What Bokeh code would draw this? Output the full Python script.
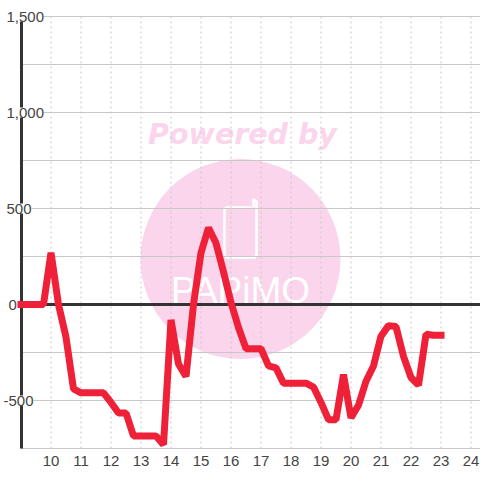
from bokeh.embed import file_html
from bokeh.resources import INLINE
from bokeh.plotting import figure
from bokeh.models import FixedTicker, Label, Range1d
from bokeh.core.properties import value

hours = [9, 9.25, 9.5, 9.75, 10, 10.25, 10.5, 10.75, 11, 11.25, 11.5, 11.75,
         12, 12.25, 12.5, 12.75, 13, 13.25, 13.5, 13.75, 14, 14.25, 14.5, 14.75,
         15, 15.25, 15.5, 15.75, 16, 16.25, 16.5, 16.75, 17, 17.25, 17.5, 17.75,
         18, 18.25, 18.5, 18.75, 19, 19.25, 19.5, 19.75, 20, 20.25, 20.5, 20.75,
         21, 21.25, 21.5, 21.75, 22, 22.25, 22.5, 22.75, 23]
diff = [0, 0, 0, 0, 270, 0, -170, -440, -460, -460, -460, -460,
        -510, -565, -565, -685, -685, -685, -685, -730, -80, -310, -375, 0,
        270, 400, 320, 170, 10, -120, -230, -230, -230, -320, -330, -410,
        -410, -410, -410, -430, -510, -600, -600, -365, -590, -525, -400, -320,
        -165, -110, -115, -270, -380, -420, -155, -160, -160]
x_ticks = list(range(10, 25))
y_grid = [-750, -500, -250, 0, 250, 500, 750, 1000, 1250, 1500]
y_labels = {1500: "1,500", 1000: "1,000", 500: "500", 0: "0", -500: "-500"}
label_left = {1500: 6, 1000: 6, 500: 6, 0: 8, -500: 3}

RED = "#ee2139"
DARK = "#333333"
GRID = "#c8c8c8"
PINK = "#fbd5ec"
TEXT = "#444444"

def X(px):
    return 10 + (px - 50.5) / 30

def Y(py):
    return (304 - py) / 0.192

p = figure(width=480, height=480, output_backend="svg", toolbar_location=None,
           x_range=Range1d(X(0), X(480)), y_range=Range1d(Y(449), Y(0)),
           min_border_left=0, min_border_right=0, min_border_top=0, min_border_bottom=31,
           outline_line_color=None, background_fill_color="white")

# watermark, behind the grid
p.ellipse([X(240)], [Y(258.5)], width=200 / 30, height=200 / 0.192,
          fill_color=PINK, line_color=None, level="image")
p.text([X(242)], [Y(134)], text=["Powered by"], text_font=value("DejaVu Sans"),
       text_font_style="bold italic", text_font_size="28.5px", text_color=PINK,
       text_align="center", text_baseline="middle", level="image")
p.line([X(v) for v in (251, 226, 224, 224, 226, 254, 256, 256, 253, 253)],
       [Y(v) for v in (207, 207, 209, 255, 257, 257, 255, 201, 199, 207)],
       line_color="white", line_width=2.5, line_join="round", level="image")
p.text([X(240)], [Y(290)], text=["PAPiMO"], text_font=value("Liberation Sans"),
       text_font_size="37px", text_color="white",
       text_align="center", text_baseline="middle", level="image")

# grid, starting at the left axis
p.xgrid.visible = False
p.ygrid.visible = False
p.segment(x_ticks, [-750] * len(x_ticks), x_ticks, [1500] * len(x_ticks),
          line_color=GRID, line_dash="2 3", line_width=1, level="underlay")
p.segment([9] * len(y_grid), y_grid, [X(480)] * len(y_grid), y_grid,
          line_color=GRID, line_width=1, level="underlay")

xa = p.xaxis[0]
xa.ticker = FixedTicker(ticks=x_ticks)
xa.axis_line_color = None
xa.major_tick_line_color = None
xa.minor_tick_line_color = None
xa.major_label_text_font = "Liberation Sans"
xa.major_label_text_font_size = "15px"
xa.major_label_text_color = TEXT
xa.major_label_standoff = 0

ya = p.yaxis[0]
ya.ticker = FixedTicker(ticks=y_grid)
ya.fixed_location = 9
ya.bounds = (-750, 1500)
ya.axis_line_color = DARK
ya.axis_line_width = 3
ya.major_tick_line_color = None
ya.minor_tick_line_color = None
ya.major_label_text_color = None
ya.level = "underlay"

# zero line from the left axis to the right edge
p.segment([9], [0], [X(480)], [0], line_color=DARK, line_width=3, level="underlay")

p.line(hours, diff, line_color=RED, line_width=7, line_join="bevel", line_cap="square")

for v, t in y_labels.items():
    p.add_layout(Label(x=X(label_left[v]), y=v, text=t, text_font="Liberation Sans",
                       text_font_size="15px", text_color=TEXT, text_align="left",
                       text_baseline="middle", background_fill_color="white" if v != 0 else None))

open("out.html", "w").write(file_html(p, INLINE))
